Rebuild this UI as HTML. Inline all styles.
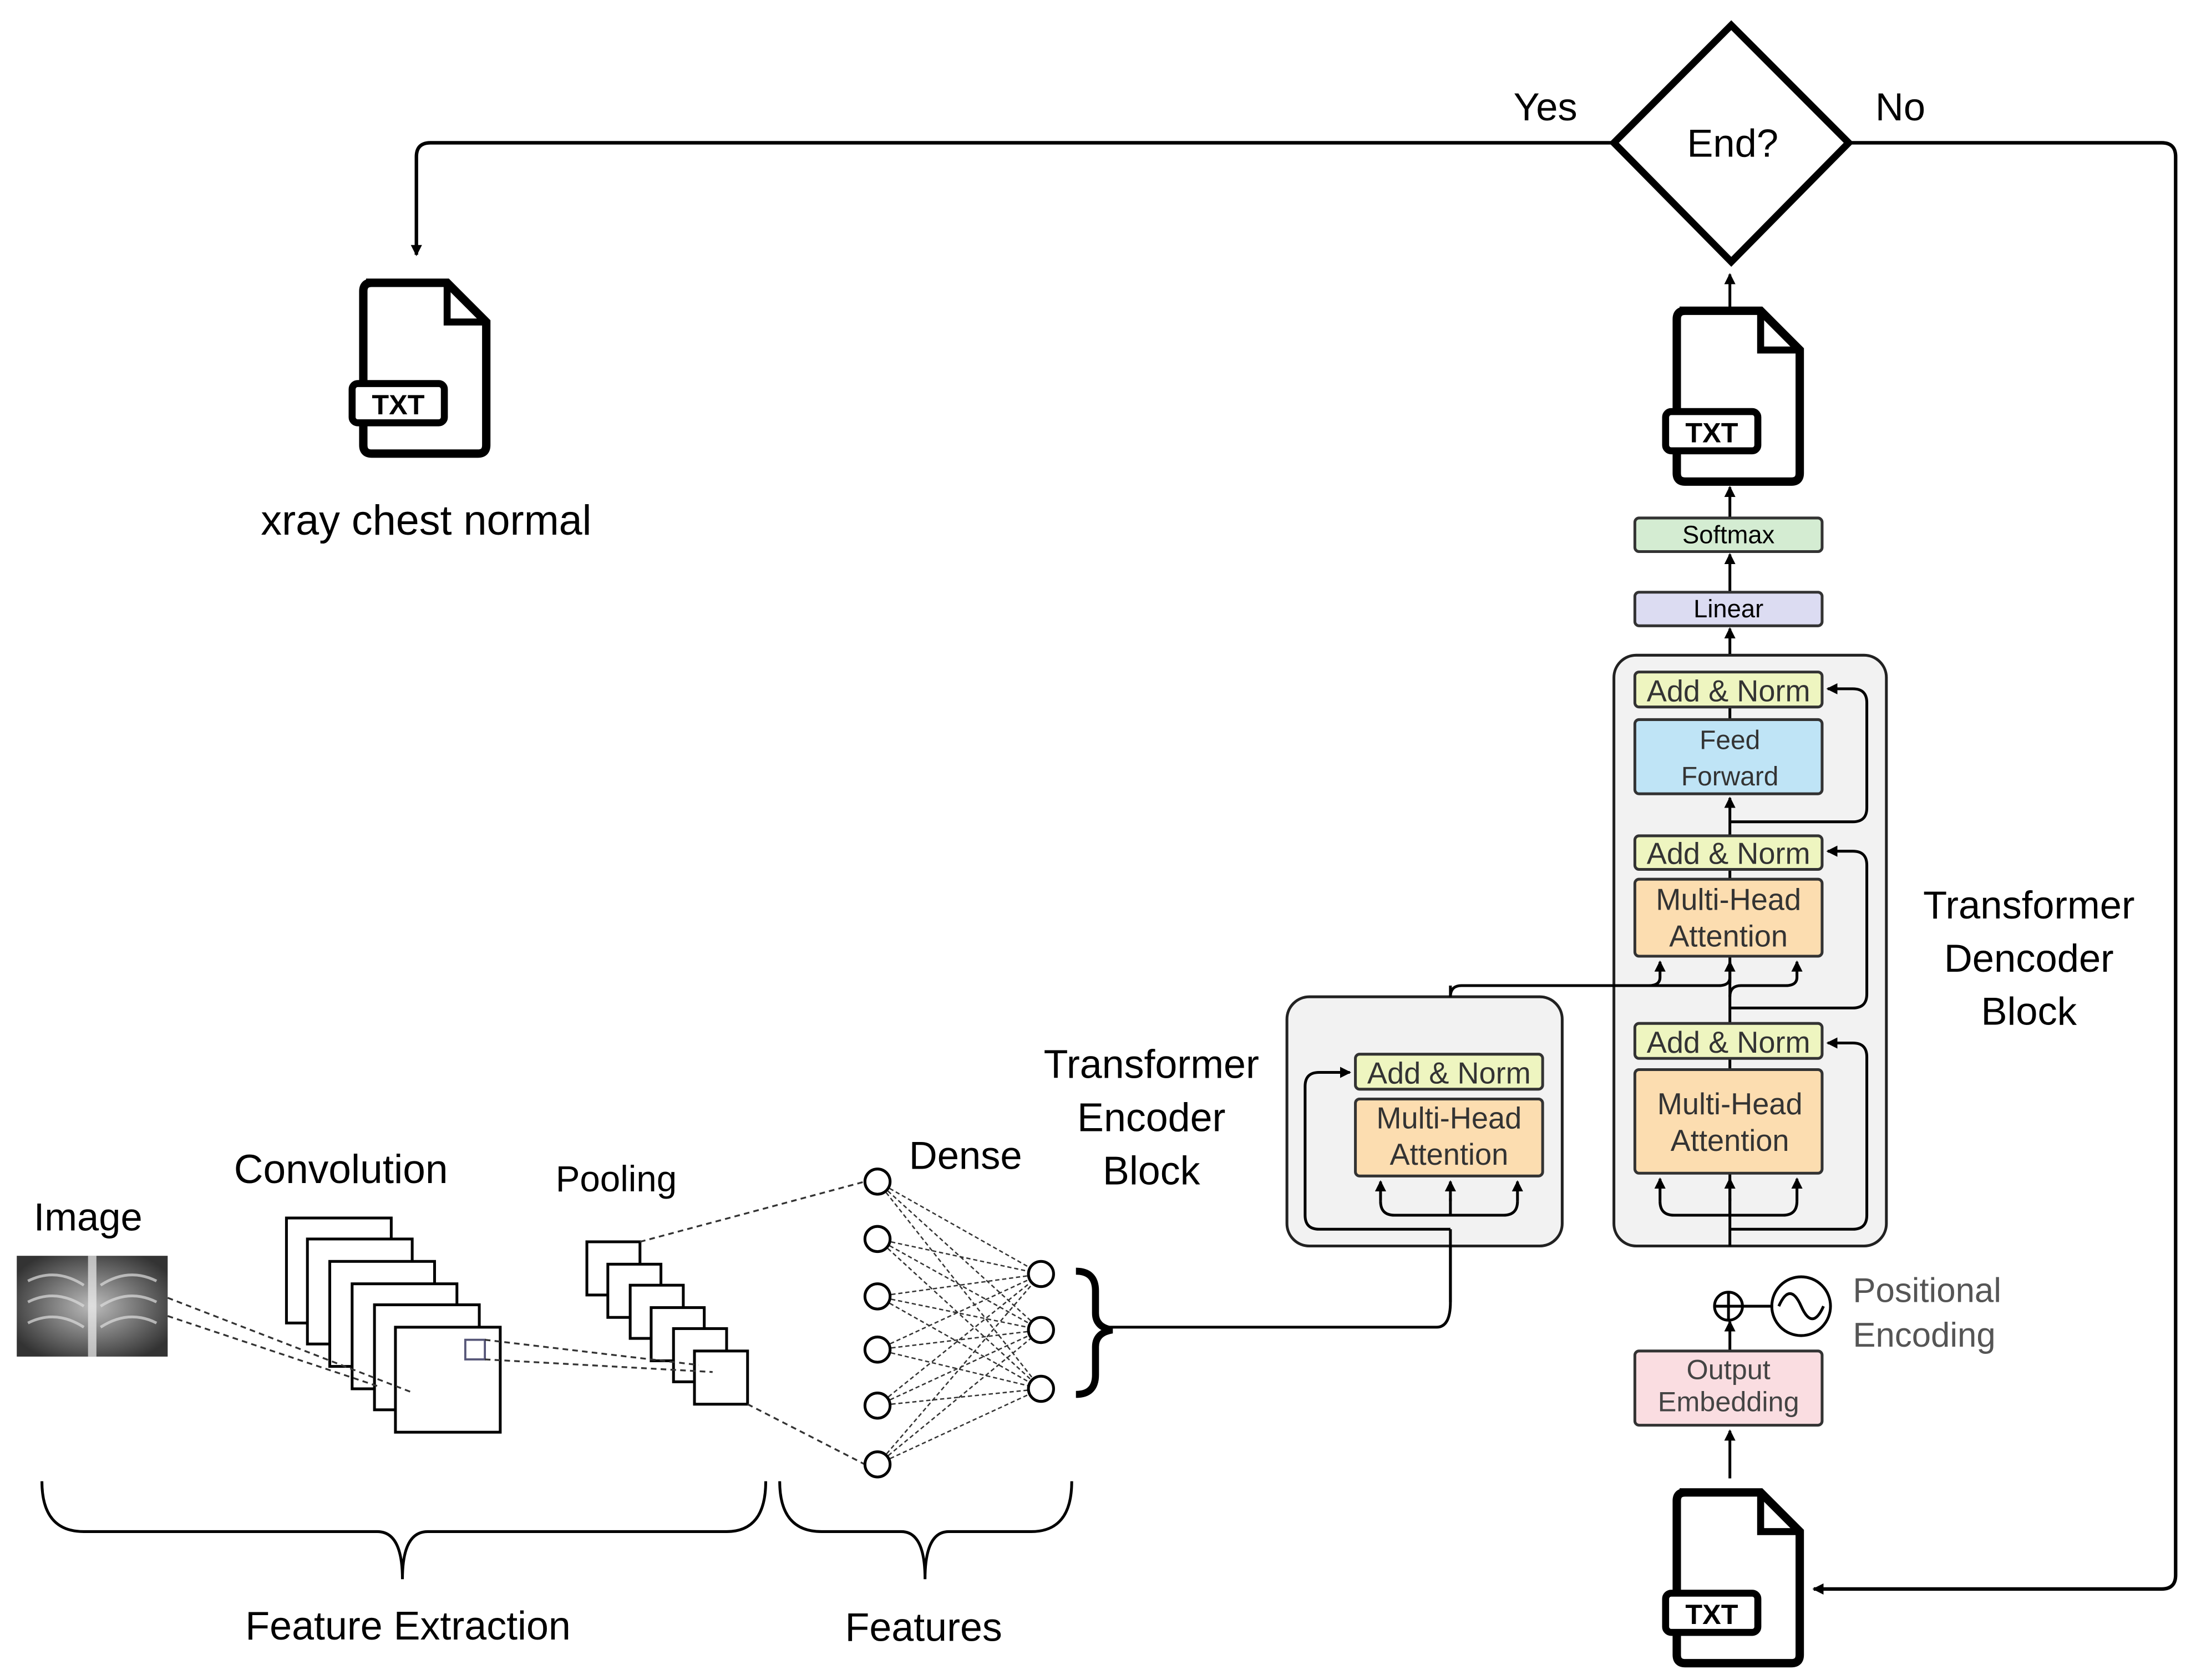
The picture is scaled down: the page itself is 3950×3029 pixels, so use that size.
<!DOCTYPE html>
<html><head><meta charset="utf-8"><style>html,body{margin:0;padding:0;background:#fff}svg{display:block}</style></head><body>
<svg width="3950" height="3029" viewBox="0 0 1568 1200" preserveAspectRatio="none" xmlns="http://www.w3.org/2000/svg" font-family="Liberation Sans, DejaVu Sans, sans-serif">
<defs>
<marker id="a" markerWidth="8" markerHeight="8" refX="7" refY="4" orient="auto" markerUnits="userSpaceOnUse"><path d="M0,0 L8,4 L0,8 z" fill="#000"/></marker>
<g id="txt">
<path d="M4,2 H62 L90,30 V118 Q90,124 84,124 H8 Q2,124 2,118 V8 Q2,2 8,2 Z" fill="#fff" stroke="#000" stroke-width="6"/>
<path d="M62,2 V30 H90" fill="none" stroke="#000" stroke-width="5"/>
<rect x="-6" y="74" width="66" height="28" rx="4" fill="#fff" stroke="#000" stroke-width="5"/>
<text x="27" y="96" font-size="20" font-weight="bold" text-anchor="middle">TXT</text>
</g>
<radialGradient id="xr" cx="0.5" cy="0.5" r="0.6"><stop offset="0" stop-color="#bbb"/><stop offset="1" stop-color="#333"/></radialGradient>
</defs>
<rect width="1568" height="1200" fill="#fff"/>
<polygon points="1239,18 1323,102 1239,187 1155,102" fill="#fff" stroke="#000" stroke-width="5"/>
<text x="1240" y="112" font-size="28" text-anchor="middle">End?</text>
<text x="1106" y="86" font-size="28" text-anchor="middle">Yes</text>
<text x="1360" y="86" font-size="28" text-anchor="middle">No</text>
<path d="M1155,102 H308 Q298,102 298,112 V182" fill="none" stroke="#000" stroke-width="2.5" marker-end="url(#a)"/>
<path d="M1323,102 H1547 Q1557,102 1557,112 V1125 Q1557,1135 1547,1135 H1298" fill="none" stroke="#000" stroke-width="2.5" marker-end="url(#a)"/>
<use href="#txt" x="258" y="200"/>
<use href="#txt" x="1198" y="220"/>
<use href="#txt" x="1198" y="1064"/>
<text x="305" y="382" font-size="30" text-anchor="middle">xray chest normal</text>
<g stroke="#000" stroke-width="2" fill="none">
<path d="M1238,220 V196" marker-end="url(#a)"/>
<path d="M1238,370 V348" marker-end="url(#a)"/>
<path d="M1238,423 V396" marker-end="url(#a)"/>
<path d="M1238,480 V449" marker-end="url(#a)"/>
<path d="M1238,1056 V1022" marker-end="url(#a)"/>
</g>
<rect x="1170" y="370" width="134" height="24" rx="3" fill="#d4ecd2" stroke="#333" stroke-width="2"/>
<text x="1237" y="388" font-size="18" text-anchor="middle">Softmax</text>
<rect x="1170" y="423" width="134" height="24" rx="3" fill="#dcdcf2" stroke="#333" stroke-width="2"/>
<text x="1237" y="441" font-size="18" text-anchor="middle">Linear</text>
<rect x="1155" y="468" width="195" height="422" rx="16" fill="#f2f2f2" stroke="#222" stroke-width="2"/>
<g stroke="#000" stroke-width="2" fill="none">
<path d="M1238,890 V838"/>
<path d="M1238,868 V856 M1188,858 Q1188,868 1198,868 H1276 Q1286,868 1286,858" />
<path d="M1188,858 V842" marker-end="url(#a)"/><path d="M1286,858 V842" marker-end="url(#a)"/><path d="M1238,858 V842" marker-end="url(#a)"/>
<path d="M1238,764 V756"/><path d="M1238,731 V683"/>
<path d="M1238,878 H1326 Q1336,878 1336,868 V755 Q1336,745 1326,745 H1308" marker-end="url(#a)"/>
<path d="M1238,720 H1326 Q1336,720 1336,710 V618 Q1336,608 1326,608 H1308" marker-end="url(#a)"/>
<path d="M1038,930 V712 Q1038,704 1046,704 H1180 Q1188,704 1188,698 V687" marker-end="url(#a)"/>
<path d="M1180,704 H1230 Q1238,704 1238,698"/>
<path d="M1238,712 Q1238,704 1246,704 H1278 Q1286,704 1286,698 V687" marker-end="url(#a)"/>
<path d="M1238,702 V687" marker-end="url(#a)"/>
<path d="M1238,628 V621"/><path d="M1238,597 V570" marker-end="url(#a)"/><path d="M1238,514 V505"/>
<path d="M1238,587 H1326 Q1336,587 1336,577 V502 Q1336,492 1326,492 H1308" marker-end="url(#a)"/>
</g>
<g stroke="#333" stroke-width="2">
<rect x="1170" y="480" width="134" height="25" rx="3" fill="#eef5c0"/>
<rect x="1170" y="514" width="134" height="53" rx="3" fill="#bfe4f6"/>
<rect x="1170" y="597" width="134" height="24" rx="3" fill="#eef5c0"/>
<rect x="1170" y="628" width="134" height="55" rx="3" fill="#fcddb0"/>
<rect x="1170" y="731" width="134" height="25" rx="3" fill="#eef5c0"/>
<rect x="1170" y="764" width="134" height="74" rx="3" fill="#fcddb0"/>
</g>
<g font-size="21.5" text-anchor="middle" fill="#333">
<text x="1237" y="501">Add &amp; Norm</text>
<text x="1238" y="535" font-size="19">Feed</text><text x="1238" y="561" font-size="19">Forward</text>
<text x="1237" y="617">Add &amp; Norm</text>
<text x="1237" y="650">Multi-Head</text><text x="1237" y="676">Attention</text>
<text x="1237" y="752">Add &amp; Norm</text>
<text x="1238" y="796">Multi-Head</text><text x="1238" y="822">Attention</text>
</g>
<text x="1452" y="656" font-size="28" text-anchor="middle">Transformer</text>
<text x="1452" y="694" font-size="28" text-anchor="middle">Dencoder</text>
<text x="1452" y="732" font-size="28" text-anchor="middle">Block</text>
<rect x="921" y="712" width="197" height="178" rx="16" fill="#f2f2f2" stroke="#222" stroke-width="2"/>
<g stroke="#000" stroke-width="2" fill="none">
<path d="M1038,712 V704"/>
<path d="M1038,868 V856 M988,858 Q988,868 998,868 H1076 Q1086,868 1086,858"/>
<path d="M988,858 V844" marker-end="url(#a)"/><path d="M1086,858 V844" marker-end="url(#a)"/><path d="M1038,858 V844" marker-end="url(#a)"/>
<path d="M1038,878 H944 Q934,878 934,868 V776 Q934,766 944,766 H966" marker-end="url(#a)"/>
<path d="M1038,878 V930 Q1038,948 1028,948 H790"/>
</g>
<rect x="970" y="753" width="134" height="25" rx="3" fill="#eef5c0" stroke="#333" stroke-width="2"/>
<rect x="970" y="785" width="134" height="55" rx="3" fill="#fcddb0" stroke="#333" stroke-width="2"/>
<g font-size="21.5" text-anchor="middle" fill="#333">
<text x="1037" y="774">Add &amp; Norm</text>
<text x="1037" y="806">Multi-Head</text><text x="1037" y="832">Attention</text>
</g>
<text x="824" y="770" font-size="28.5" text-anchor="middle">Transformer</text>
<text x="824" y="808" font-size="28.5" text-anchor="middle">Encoder</text>
<text x="824" y="846" font-size="28.5" text-anchor="middle">Block</text>
<g stroke="#000" stroke-width="2" fill="none">
<path d="M1238,965 V944" marker-end="url(#a)"/>
<circle cx="1237" cy="933" r="10"/><path d="M1227,933 H1247 M1237,923 V943"/>
<path d="M1247,933 H1269"/>
<circle cx="1289" cy="933" r="21"/>
<path d="M1273,933 Q1281,915 1289,933 Q1297,951 1305,933"/>
</g>
<text x="1326" y="930" font-size="24.5" fill="#555">Positional</text>
<text x="1326" y="962" font-size="24.5" fill="#555">Encoding</text>
<rect x="1170" y="965" width="134" height="53" rx="3" fill="#fadde1" stroke="#333" stroke-width="2"/>
<text x="1237" y="985" font-size="20" text-anchor="middle" fill="#444">Output</text>
<text x="1237" y="1008" font-size="20" text-anchor="middle" fill="#444">Embedding</text>
<text x="63" y="879" font-size="28" text-anchor="middle">Image</text>
<rect x="12" y="897" width="108" height="72" fill="url(#xr)"/>
<g stroke="#ddd" stroke-width="2" fill="none" opacity="0.7">
<path d="M20,915 Q40,905 60,918 M20,930 Q40,920 60,933 M20,945 Q40,935 60,948 M72,918 Q92,905 112,915 M72,933 Q92,920 112,930 M72,948 Q92,935 112,945"/>
<path d="M66,897 V969" stroke="#eee" stroke-width="6"/>
</g>
<text x="244" y="845" font-size="29" text-anchor="middle">Convolution</text>
<g fill="#fff" stroke="#000" stroke-width="2">
<rect x="205" y="870" width="75" height="75"/><rect x="220" y="885" width="75" height="75"/><rect x="236" y="901" width="75" height="75"/><rect x="252" y="917" width="75" height="75"/><rect x="268" y="932" width="75" height="75"/><rect x="283" y="948" width="75" height="75"/>
</g>
<rect x="333" y="957" width="14" height="14" fill="none" stroke="#557" stroke-width="1.5"/>
<text x="441" y="851" font-size="26" text-anchor="middle">Pooling</text>
<g fill="#fff" stroke="#000" stroke-width="2">
<rect x="420" y="887" width="38" height="38"/><rect x="435" y="903" width="38" height="38"/><rect x="451" y="918" width="38" height="38"/><rect x="466" y="934" width="38" height="38"/><rect x="482" y="949" width="38" height="38"/><rect x="497" y="965" width="38" height="38"/>
</g>
<g stroke="#333" stroke-width="1.3" stroke-dasharray="4,3" fill="none">
<path d="M120,927 L296,995 M120,940 L270,990 M347,957 L500,975 M347,971 L510,980 M458,887 L619,844 M535,1003 L619,1046"/>
</g>
<text x="691" y="835" font-size="28" text-anchor="middle">Dense</text>
<g stroke="#333" stroke-width="1" stroke-dasharray="3,2">
<path d="M628,844 L745,910 M628,844 L745,950 M628,844 L745,992 M628,885 L745,910 M628,885 L745,950 M628,885 L745,992 M628,926 L745,910 M628,926 L745,950 M628,926 L745,992 M628,964 L745,910 M628,964 L745,950 M628,964 L745,992 M628,1004 L745,910 M628,1004 L745,950 M628,1004 L745,992 M628,1046 L745,910 M628,1046 L745,950 M628,1046 L745,992"/>
</g>
<g fill="#fff" stroke="#000" stroke-width="2">
<circle cx="628" cy="844" r="9"/><circle cx="628" cy="885" r="9"/><circle cx="628" cy="926" r="9"/><circle cx="628" cy="964" r="9"/><circle cx="628" cy="1004" r="9"/><circle cx="628" cy="1046" r="9"/>
<circle cx="745" cy="910" r="9"/><circle cx="745" cy="950" r="9"/><circle cx="745" cy="992" r="9"/>
</g>
<path d="M770,908 Q784,908 784,922 V938 Q784,948 796,950 Q784,952 784,962 V982 Q784,996 770,996" fill="none" stroke="#000" stroke-width="5"/>
<g fill="none" stroke="#000" stroke-width="2">
<path d="M30,1058 Q30,1094 60,1094 H270 Q288,1094 288,1128 Q288,1094 306,1094 H520 Q548,1094 548,1058"/>
<path d="M558,1058 Q558,1094 588,1094 H645 Q662,1094 662,1128 Q662,1094 679,1094 H738 Q767,1094 767,1058"/>
</g>
<text x="292" y="1171" font-size="28.5" text-anchor="middle">Feature Extraction</text>
<text x="661" y="1172" font-size="28.5" text-anchor="middle">Features</text>
</svg>
</body></html>
